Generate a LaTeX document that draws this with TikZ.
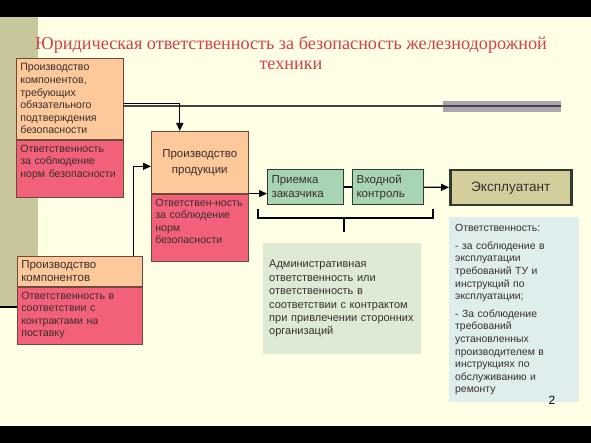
\documentclass[tikz,border=0pt]{standalone}
\usepackage{fontspec}
\setmainfont{Liberation Serif}
\setsansfont{Liberation Sans}
\usetikzlibrary{positioning,arrows.meta}

\definecolor{slidebg}{HTML}{FFFFE6}
\definecolor{stripe}{HTML}{C8C79B}
\definecolor{barfill}{HTML}{A9A6B2}
\definecolor{decoline}{HTML}{4A3F45}
\definecolor{titlered}{HTML}{D2404C}
\definecolor{orangefill}{HTML}{FDC89A}
\definecolor{redfill}{HTML}{F3607A}
\definecolor{partline}{HTML}{6E4A3C}
\definecolor{parttext}{HTML}{3A2E2E}
\definecolor{greenfill}{HTML}{A7D4B3}
\definecolor{greenline}{HTML}{2F3B30}
\definecolor{userfill}{HTML}{D4CE9C}
\definecolor{adminfill}{HTML}{DDEBD5}
\definecolor{dutyfill}{HTML}{DDEEEC}

\begin{document}
\begin{tikzpicture}[x=1pt,y=-1pt,
	part/.style={draw=partline, line width=0.6pt, text=parttext, align=left,
		anchor=north west, inner xsep=4pt, inner ysep=2pt, text width=#1,
		font=\sffamily\fontsize{10.6}{12.6}\selectfont},
	orangepart/.style={part=#1, fill=orangefill},
	redpart/.style={part=#1, fill=redfill},
	greenbox/.style={draw=greenline, line width=1pt, fill=greenfill, text=parttext,
		align=left, anchor=north west, inner xsep=4pt, text width=#1,
		minimum height=35pt, font=\sffamily\fontsize{11.5}{14}\selectfont},
	note/.style={fill=#1, text=parttext, align=left, anchor=north west,
		inner xsep=6pt, font=\sffamily\fontsize{10.4}{12.6}\selectfont},
	conn/.style={line width=1.3pt, -{Triangle[length=8pt,width=7pt]}}
]
	\useasboundingbox (0,0) rectangle (591,443);
	\fill[black] (0,0) rectangle (591,443);
	\fill[slidebg] (0,17) rectangle (591,426);
	\fill[stripe] (0,17) rectangle (38,306);
	\fill[barfill] (443,101) rectangle (561,112);
	\draw[decoline, line width=1.2pt] (16,106) -- (561,106);
	\draw[black, line width=1.2pt] (0,307) -- (17,307);
	
	\node[titlered, align=center, font=\fontsize{18.2}{20}\selectfont] (title) at (291,53)
		{Юридическая ответственность за безопасность железнодорожной\\техники};
	
	\node[orangepart=99pt, minimum height=81pt] (safecomp) at (16,58)
		{Производство\\компонентов,\\требующих\\обязательного\\подтверждения\\безопасности};
	\node[redpart=99pt, minimum height=57pt, below=0pt of safecomp] (safeduty)
		{Ответственность\\за соблюдение\\\mbox{норм безопасности}\par\vspace*{12pt}};
	
	\node[orangepart=89pt, align=center, minimum height=62pt,
		font=\sffamily\fontsize{11.5}{16}\selectfont] (prod) at (151,131)
		{Производство\\продукции};
	\node[redpart=89pt, minimum height=67pt, below=0pt of prod] (prodduty)
		{\mbox{Ответствен-ность}\\за соблюдение\\норм\\безопасности\par\vspace*{12pt}};
	
	\node[orangepart=117pt, minimum height=30pt,
		font=\sffamily\fontsize{11.5}{13}\selectfont] (comps) at (17,256)
		{Производство\\компонентов};
	\node[redpart=117pt, minimum height=57pt, below=0pt of comps] (compsduty)
		{Ответственность в\\соответствии с\\контрактами на\\поставку};
	
	\node[greenbox=68pt] (accept) at (267,169) {Приемка\\заказчика};
	\node[greenbox=63pt, right=8pt of accept] (incoming) {Входной\\контроль};
	
	\node[draw=greenline, line width=2.5pt, fill=userfill, text=parttext,
		minimum width=121pt, minimum height=35pt, anchor=north west,
		font=\sffamily\fontsize{13.6}{15}\selectfont] (user) at (449,169) {Эксплуатант};
	
	\node[note=adminfill, text width=146pt, minimum height=111pt,
		font=\sffamily\fontsize{11}{13.4}\selectfont] (admin) at (263,243)
		{Административная\\ответственность или\\ответственность в\\соответствии с контрактом\\при привлечении сторонних\\организаций};
	
	\node[note=dutyfill, text width=118pt, minimum height=185pt] (duty) at (449,217)
		{Ответственность:\\[5pt]- за соблюдение в\\эксплуатации\\требований ТУ и\\инструкций по\\эксплуатации;\\[5pt]- За соблюдение\\требований\\установленных\\производителем в\\инструкциях по\\обслуживанию и\\ремонту};
	
	\node[font=\sffamily\fontsize{12}{14}\selectfont] (page) at (552,400) {2};
	
	\draw[conn] ([yshift=-4.5pt]safecomp.east) -| ([xshift=-20pt]prod.north);
	\draw[conn] ([xshift=-9pt]comps.north east) |- ([yshift=-4pt]prod.west);
	\draw[conn] (prod.south east) -- (prod.south east -| accept.west);
	\draw[line width=1.3pt] (accept) -- (incoming);
	\draw[conn] (incoming) -- (user);
	
	\coordinate (brace) at (344,232);
	\draw[line width=1.2pt] ([shift={(-9pt,-4pt)}]accept.south west) -- ++(0,9)
		-| ([shift={(9pt,-4pt)}]incoming.south east);
	\draw[line width=1.2pt] (brace |- 0,217) -- (brace);
\end{tikzpicture}
\end{document}
